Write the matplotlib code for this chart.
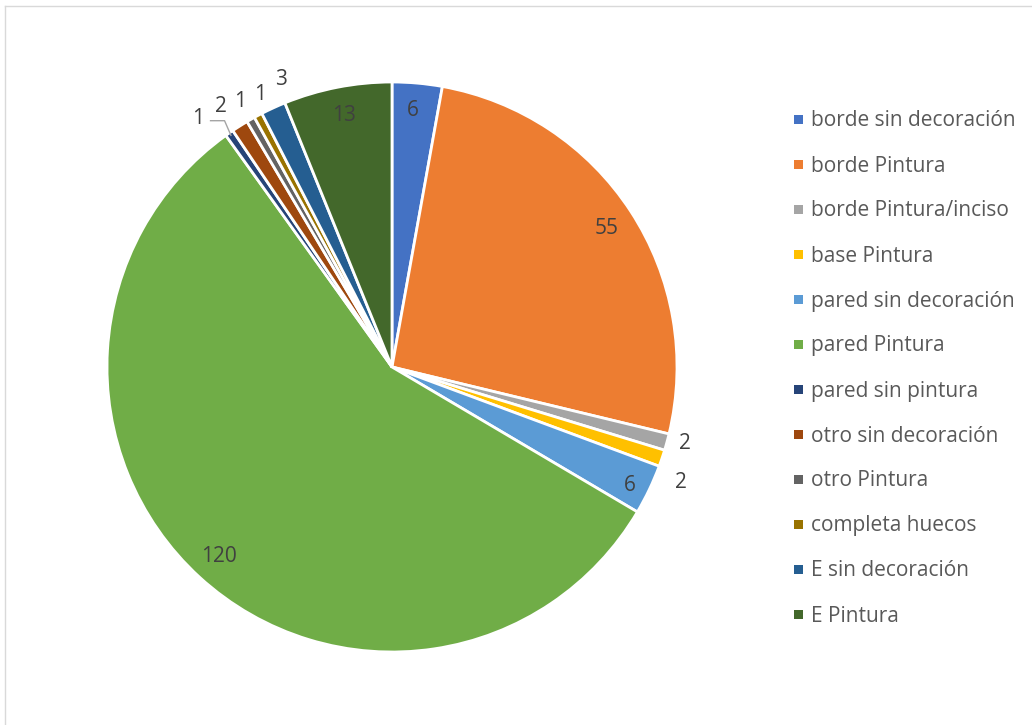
import matplotlib
matplotlib.use("Agg")
import matplotlib.pyplot as plt
import numpy as np
from matplotlib.patches import Rectangle
from matplotlib.lines import Line2D

categories = [
    "borde sin decoración", "borde Pintura", "borde Pintura/inciso", "base Pintura",
    "pared sin decoración", "pared Pintura", "pared sin pintura", "otro sin decoración",
    "otro Pintura", "completa huecos", "E sin decoración", "E Pintura",
]
counts = [6, 55, 2, 2, 6, 120, 1, 2, 1, 1, 3, 13]
colors = [
    "#4472C4", "#ED7D31", "#A5A5A5", "#FFC000", "#5B9BD5", "#70AD47",
    "#264478", "#9E480E", "#636363", "#997300", "#255E91", "#43682B",
]
# label distance from centre (fraction of radius) and angular nudge (degrees)
label_r = [0.91, 0.90, 1.06, 1.09, 0.93, 0.895, 1.11, 1.10, 1.08, 1.07, 1.09, 0.905]
label_nudge = [0.5, 0.0, 1.0, -2.7, -0.7, -0.3, 2.9, 0.8, -0.2, -2.3, -3.6, -0.3]

W, H = 1032, 725
fig = plt.figure(figsize=(W / 100, H / 100), dpi=100)
fig.patch.set_facecolor("white")

font = "Open Sans"
label_col = "#404040"
legend_col = "#595959"
fsize = 15
text_drop = 2  # px, visual centring of the text boxes

# pie axes measured in pixels
cx, cy, R = 392, 367, 285
half = 320
ax = fig.add_axes([(cx - half) / W, (H - cy - half) / H, 2 * half / W, 2 * half / H])

wedges, _ = ax.pie(
    counts, colors=colors, startangle=90, counterclock=False, radius=R,
    wedgeprops=dict(edgecolor="white", linewidth=2.0),
)
ax.set_xlim(-half, half)
ax.set_ylim(-half, half)
ax.set_aspect("equal")
ax.axis("off")

total = sum(counts)
cum = np.cumsum([0] + counts)
for i, v in enumerate(counts):
    mid = 90 - 360 * (cum[i] + v / 2) / total + label_nudge[i]
    a = np.deg2rad(mid)
    x, y = label_r[i] * R * np.cos(a), label_r[i] * R * np.sin(a)
    ax.text(x, y - text_drop, str(v), ha="center", va="center", fontsize=fsize,
            family=font, color=label_col)

# leader line for the smallest slice
i = 6
mid = np.deg2rad(90 - 360 * (cum[i] + counts[i] / 2) / total)
ex, ey = 0.99 * R * np.cos(mid), 0.99 * R * np.sin(mid)
lx, ly = 1.11 * R * np.cos(np.deg2rad(127.7)), 1.11 * R * np.sin(np.deg2rad(127.7))
ax.add_line(Line2D([lx + 12, lx + 26, ex], [ly - 4, ly - 4, ey],
                   color="#A5A5A5", linewidth=1.0))

# legend
leg_x, leg_y0, leg_dy = 798.5, 119, 45
for k, (name, c) in enumerate(zip(categories, colors)):
    yy = leg_y0 + k * leg_dy
    fig.patches.append(Rectangle(((leg_x - 4.5) / W, (H - yy - 4.5) / H), 9 / W, 9 / H,
                                 transform=fig.transFigure, facecolor=c, edgecolor="none"))
    fig.text(811 / W, (H - yy - text_drop) / H, name, ha="left", va="center",
             fontsize=fsize, family=font, color=legend_col)

# chart frame (top and left edges)
frame_col = "#D9D9D9"
fig.add_artist(Line2D([5 / W, 1.0], [1 - 6 / H, 1 - 6 / H], transform=fig.transFigure,
                      color=frame_col, linewidth=1.0))
fig.add_artist(Line2D([5 / W, 5 / W], [0.0, 1 - 6 / H], transform=fig.transFigure,
                      color=frame_col, linewidth=1.0))

fig.savefig("out.png", dpi=100, facecolor="white")
